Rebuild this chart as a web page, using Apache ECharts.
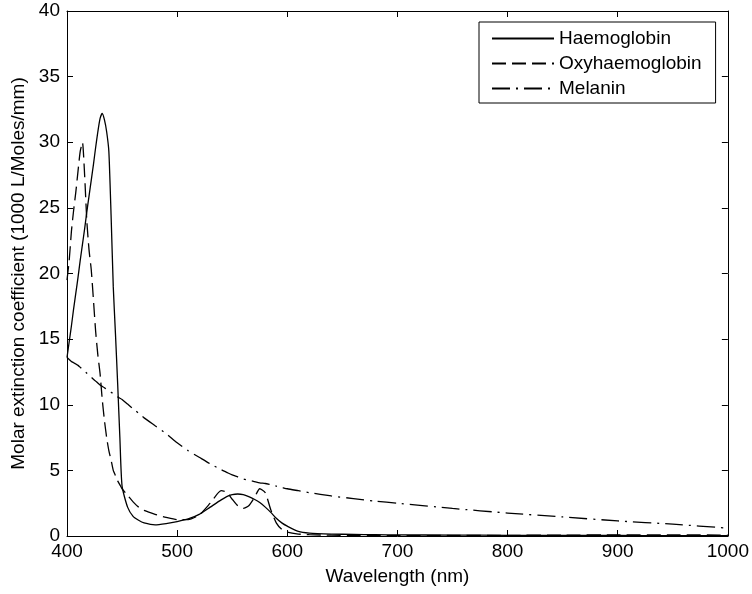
<!DOCTYPE html>
<html>
<head>
<meta charset="utf-8">
<script src="https://cdn.jsdelivr.net/npm/echarts@6/dist/echarts.min.js"></script>
<style>
  html, body { margin: 0; padding: 0; background: #fff; }
  #chart { width: 752px; height: 594px; }
</style>
</head>
<body>
<div id="chart"></div>
<script>
// Wavelengths (nm) shared by all three series
const wavelengths = [400,402,404,406,408,410,412,414,416,418,420,422,424,426,428,430,432,434,436,438,440,442,444,446,448,450,
  455,460,465,470,480,490,500,510,520,530,540,545,550,555,560,565,570,575,580,585,590,595,600,610,620,640,660,680,700,
  750,800,850,900,950,1000];

// Haemoglobin (solid)
const haemoglobin = [13.6,14.8,16.0,17.3,18.5,19.7,21.0,22.2,23.4,24.7,25.9,27.1,28.3,29.6,30.8,31.8,32.2,31.7,30.8,29.3,24.5,19.0,15.4,11.6,7.5,3.8,
  2.2,1.5,1.2,1.0,0.85,0.95,1.1,1.3,1.65,2.2,2.75,3.0,3.15,3.2,3.15,3.0,2.8,2.55,2.2,1.8,1.35,1.0,0.75,0.35,0.22,0.15,0.12,0.1,0.08,
  0.07,0.05,0.04,0.04,0.03,0.03];

// Oxyhaemoglobin (dashed)
const oxyhaemoglobin = [19.5,21.0,23.2,24.8,26.2,27.8,29.3,30.0,27.5,24.0,21.8,20.3,18.0,15.6,13.8,12.4,10.4,8.8,7.5,6.5,5.8,5.0,4.6,4.2,3.9,3.6,
  3.1,2.6,2.2,1.95,1.65,1.42,1.25,1.25,1.6,2.5,3.45,3.35,2.8,2.3,2.1,2.3,2.9,3.6,3.3,2.0,1.0,0.5,0.3,0.15,0.1,0.06,0.05,0.04,0.03,
  0.04,0.05,0.07,0.08,0.08,0.07];

// Melanin (dash-dot)
const melanin = [13.6,13.45,13.3,13.2,13.1,13.0,12.85,12.7,12.55,12.4,12.25,12.1,11.95,11.8,11.65,11.5,11.4,11.3,11.15,11.05,10.95,10.85,10.7,10.6,10.5,10.4,
  10.05,9.7,9.35,9.0,8.4,7.8,7.1,6.5,6.0,5.5,5.05,4.85,4.65,4.5,4.35,4.25,4.15,4.05,4.0,3.9,3.8,3.7,3.6,3.45,3.3,3.05,2.85,2.65,2.5,
  2.1,1.75,1.45,1.15,0.9,0.6];

const seriesNames = ['Haemoglobin', 'Oxyhaemoglobin', 'Melanin'];
const xTicks = { min: 400, max: 1000, step: 100 };
const yTicks = { min: 0, max: 40, step: 5 };

const FONT = '"Liberation Sans", Arial, sans-serif';
const pairs = vals => wavelengths.map((w, i) => [w, vals[i]]);

const axisCommon = {
  type: 'value',
  splitLine: { show: false },
  axisLine: { show: true, onZero: false, lineStyle: { color: '#000', width: 1 } },
  axisTick: { show: true, inside: true, length: 6, lineStyle: { color: '#000', width: 1 } },
};

const chart = echarts.init(document.getElementById('chart'), null, { renderer: 'canvas' });
chart.setOption({
  backgroundColor: '#fff',
  animation: false,
  textStyle: { fontFamily: FONT, color: '#000' },
  grid: { left: 67, right: 21, top: 11, bottom: 58, containLabel: false },
  legend: {
    orient: 'vertical',
    left: 479,
    top: 22,
    data: seriesNames,
    itemWidth: 62,
    itemHeight: 14,
    itemGap: 6,
    padding: [7, 14, 5, 12],
    borderColor: '#000',
    borderWidth: 1,
    backgroundColor: '#fff',
    itemStyle: { color: 'rgba(0,0,0,0)', borderWidth: 0, opacity: 0 },
    textStyle: { fontFamily: FONT, fontSize: 19, color: '#000', lineHeight: 19 },
  },
  xAxis: [
    Object.assign({}, axisCommon, {
      position: 'bottom', min: xTicks.min, max: xTicks.max, interval: xTicks.step,
      name: 'Wavelength (nm)', nameLocation: 'middle', nameGap: 31,
      nameTextStyle: { fontFamily: FONT, fontSize: 19, color: '#000' },
      axisLabel: { fontFamily: FONT, fontSize: 19, color: '#000', margin: 6, formatter: v => String(v) },
    }),
    Object.assign({}, axisCommon, {
      position: 'top', min: xTicks.min, max: xTicks.max, interval: xTicks.step,
      axisLabel: { show: false },
    }),
  ],
  yAxis: [
    Object.assign({}, axisCommon, {
      position: 'left', min: yTicks.min, max: yTicks.max, interval: yTicks.step,
      name: 'Molar extinction coefficient (1000 L/Moles/mm)', nameLocation: 'middle', nameGap: 36,
      nameTextStyle: { fontFamily: FONT, fontSize: 19, color: '#000' },
      axisLabel: { fontFamily: FONT, fontSize: 19, color: '#000', margin: 7, formatter: v => String(v) },
    }),
    Object.assign({}, axisCommon, {
      position: 'right', min: yTicks.min, max: yTicks.max, interval: yTicks.step,
      axisLabel: { show: false },
    }),
  ],
  series: [
    {
      name: seriesNames[0], type: 'line', xAxisIndex: 0, yAxisIndex: 0,
      data: pairs(haemoglobin), showSymbol: false, symbol: 'none', smooth: 0.2,
      lineStyle: { color: '#000', width: 1.3, type: 'solid' }, itemStyle: { color: '#000' },
    },
    {
      name: seriesNames[1], type: 'line', xAxisIndex: 0, yAxisIndex: 0,
      data: pairs(oxyhaemoglobin), showSymbol: false, symbol: 'none', smooth: 0.2,
      lineStyle: { color: '#000', width: 1.3, type: [14, 6] }, itemStyle: { color: '#000' },
    },
    {
      name: seriesNames[2], type: 'line', xAxisIndex: 0, yAxisIndex: 0,
      data: pairs(melanin), showSymbol: false, symbol: 'none', smooth: 0.2,
      lineStyle: { color: '#000', width: 1.3, type: [18, 6, 2, 6] }, itemStyle: { color: '#000' },
    },
  ],
});
</script>
</body>
</html>
